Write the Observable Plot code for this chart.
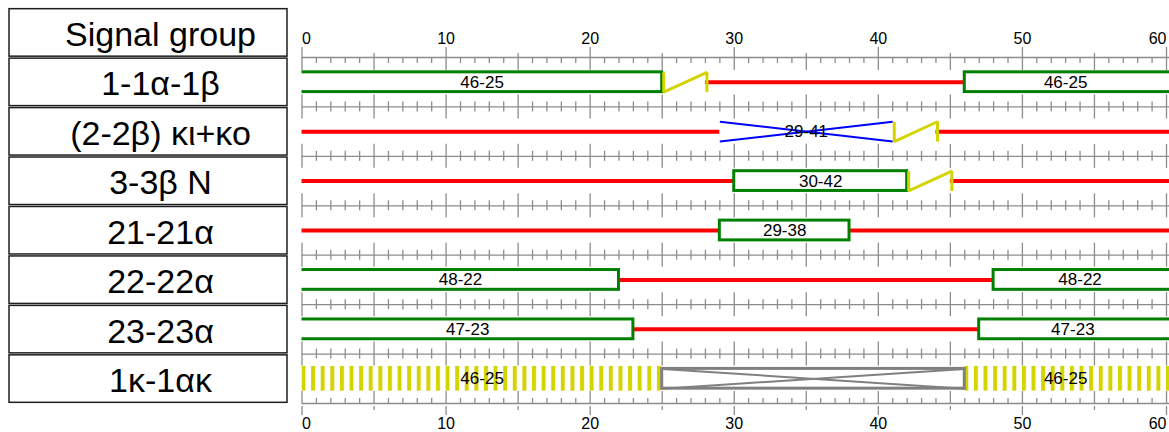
<!DOCTYPE html>
<html><head><meta charset="utf-8">
<script src="https://cdn.jsdelivr.net/npm/d3@7"></script>
<script src="https://cdn.jsdelivr.net/npm/@observablehq/plot@0.6"></script>
<style>
html,body{margin:0;padding:0;background:#fff;}
#wrap{display:flex;width:1169px;height:432px;overflow:hidden;}
#wrap svg{display:block;flex:none;max-width:none;}
</style></head><body><div id="wrap"></div>
<script>
// ---------- data ----------
const headerLabel = "Signal group";
const rows = ["1-1α-1β", "(2-2β) κι+κο", "3-3β N", "21-21α", "22-22α", "23-23α", "1κ-1ακ"];
const tickLabels = [0, 10, 20, 30, 40, 50, 60];
const greenPhases = [
  {row: "1-1α-1β", from: 46, to: 25},
  {row: "3-3β N", from: 30, to: 42},
  {row: "21-21α", from: 29, to: 38},
  {row: "22-22α", from: 48, to: 22},
  {row: "23-23α", from: 47, to: 23}
];
const redPhases = [
  {row: "1-1α-1β", from: 28, to: 46},
  {row: "(2-2β) κι+κο", from: 44, to: 29},
  {row: "3-3β N", from: 45, to: 30},
  {row: "21-21α", from: 38, to: 29},
  {row: "22-22α", from: 22, to: 48},
  {row: "23-23α", from: 23, to: 47}
];
const amberPhases = [
  {row: "1-1α-1β", from: 25, to: 28},
  {row: "(2-2β) κι+κο", from: 41, to: 44},
  {row: "3-3β N", from: 42, to: 45}
];
const blueCrossPhases = [{row: "(2-2β) κι+κο", from: 29, to: 41}];
const grayCrossPhases = [{row: "1κ-1ακ", from: 25, to: 46}];
const flashingPhases = [{row: "1κ-1ακ", from: 46, to: 25}];

// ---------- style ----------
const FONT = "'Liberation Sans', Arial, sans-serif";
const GREEN = "#008000", RED = "#ff0000", BLUE = "#0000ff", AMBER = "#d4d400", GRAY = "#808080", RULER = "#8c8c8c";
const TOP = 0.3, BOT = 0.7;          // bar extent within a row
const HTOP = 0.25, HBOT = 0.75;      // hatch extent within a row
const cycle = tickLabels[tickLabels.length - 1];

const idx = new Map(rows.map((r, i) => [r, i]));
function pieces(list) {
  return list.flatMap(p => {
    const i = idx.get(p.row), label = `${p.from}-${p.to}`;
    return p.from < p.to
      ? [{i, x1: p.from, x2: p.to, label}]
      : [{i, x1: p.from, x2: p.to + cycle, label},
         {i, x1: p.from - cycle, x2: p.to, label}];
  });
}
const greens = pieces(greenPhases);
const reds = pieces(redPhases);
const blues = pieces(blueCrossPhases);
const grays = pieces(grayCrossPhases);
const hatches = pieces(flashingPhases);
const zigzag = amberPhases.flatMap((p, k) => {
  const i = idx.get(p.row);
  return [{k, x: p.from, y: i + TOP}, {k, x: p.from, y: i + BOT}, {k, x: p.to, y: i + TOP}, {k, x: p.to, y: i + BOT}];
});
const crossLinks = list => list.flatMap(p => [
  {x1: p.x1, y1: p.i + TOP, x2: p.x2, y2: p.i + BOT},
  {x1: p.x1, y1: p.i + BOT, x2: p.x2, y2: p.i + TOP}
]);

// ticks of the ruler
const minorTicks = d3.range(0, cycle + 1).filter(v => v % 5 !== 0);
const midTicks = d3.range(5, cycle, 10);
const majorTicks = tickLabels;
const boundaries = d3.range(rows.length + 1);
const inner = boundaries.slice(1, -1);
const topB = [boundaries[0]], botB = [boundaries[boundaries.length - 1]];
const tickRule = (xs, bs, up, down) => Plot.ruleX(d3.cross(xs, bs), {
  x: d => d[0], y1: d => d[1], y2: d => d[1], insetTop: -up, insetBottom: -down,
  stroke: RULER, strokeWidth: 1.3
});

// ---------- table of signal groups ----------
const tableRows = [headerLabel, ...rows];
const table = Plot.plot({
  width: 295, height: 432, marginLeft: 9, marginRight: 8, marginTop: 0, marginBottom: 0,
  style: {fontFamily: FONT, background: "white"},
  y: {type: "band", domain: tableRows, range: [7.7, 403.3], paddingInner: 0.04, paddingOuter: 0.02, round: false, axis: null},
  marks: [
    Plot.cell(tableRows, {y: d => d, inset: 0, fill: "white", stroke: "#1e1e1e", strokeWidth: 1.5}),
    Plot.text(tableRows, {y: d => d, text: d => d, dx: 12, dy: 2, fontSize: 34, fill: "black"})
  ]
});

// ---------- timing chart ----------
const axisText = (frameAnchor, dy) => [
  Plot.text(tickLabels.slice(0, 1), {x: d => d, text: d => String(d), frameAnchor, lineAnchor: "bottom", dy, textAnchor: "start", fontSize: 16}),
  Plot.text(tickLabels.slice(1, -1), {x: d => d, text: d => String(d), frameAnchor, lineAnchor: "bottom", dy, textAnchor: "middle", fontSize: 16}),
  Plot.text(tickLabels.slice(-1), {x: d => d, text: d => String(d), frameAnchor, lineAnchor: "bottom", dy, textAnchor: "end", fontSize: 16})
];

const chart = Plot.plot({
  width: 874, height: 432, marginLeft: 6.5, marginRight: 0, marginTop: 57, marginBottom: 29,
  style: {fontFamily: FONT, background: "white"},
  x: {domain: [0, cycle], range: [6.5, 871], axis: null},
  y: {domain: [0, rows.length], reverse: true, axis: null},
  marks: [
    // ruler
    Plot.ruleY(boundaries, {stroke: RULER, strokeWidth: 1.3}),
    tickRule(minorTicks, topB, 0, 6),
    tickRule(midTicks, topB, 4, 13),
    tickRule(majorTicks, topB, 10, 13),
    tickRule(minorTicks, inner, 5, 5),
    tickRule(midTicks, inner, 12, 12),
    tickRule(majorTicks, inner, 12, 12),
    tickRule(minorTicks, botB, 5, 0),
    tickRule(midTicks, botB, 12, 0),
    tickRule(majorTicks, botB, 12, 0),
    tickRule(midTicks, botB, -3, 7),
    tickRule(majorTicks, botB, -3, 12),
    ...axisText("top", -13.5),
    ...axisText("bottom", 25),
    // red
    Plot.ruleY(reds, {y: d => d.i + 0.5, x1: "x1", x2: "x2", stroke: RED, strokeWidth: 4, clip: true}),
    // green
    Plot.rect(greens, {x1: "x1", x2: "x2", y1: d => d.i + TOP, y2: d => d.i + BOT, fill: "white", stroke: GREEN, strokeWidth: 3, clip: true}),
    // flashing (hatched)
    ...hatches.map((p, k) => Plot.rect([p], {x1: "x1", x2: "x2", y1: d => d.i + HTOP, y2: d => d.i + HBOT, fill: `url(#hatch${k})`, clip: true})),
    // gray crossed box
    Plot.rect(grays, {x1: "x1", x2: "x2", y1: d => d.i + TOP, y2: d => d.i + BOT, fill: "white", stroke: GRAY, strokeWidth: 3}),
    Plot.link(crossLinks(grays), {x1: "x1", y1: "y1", x2: "x2", y2: "y2", stroke: GRAY, strokeWidth: 2}),
    // blue cross
    Plot.link(crossLinks(blues), {x1: "x1", y1: "y1", x2: "x2", y2: "y2", stroke: BLUE, strokeWidth: 2}),
    // amber zigzag
    Plot.line(zigzag, {x: "x", y: "y", z: "k", stroke: AMBER, strokeWidth: 3, dx: 1.5, strokeLinejoin: "miter", strokeLinecap: "butt"}),
    // labels, centred in the visible part of each phase
    Plot.text([...greens, ...blues, ...hatches], {x: d => Math.max(d.x1, 0) / 2 + Math.min(d.x2, cycle) / 2, y: d => d.i + 0.5, text: "label", fontSize: 17, fill: "black", ariaLabel: "phase-labels"})
  ]
});
const lbl = chart.querySelector('g[aria-label="phase-labels"]');
if (lbl) lbl.setAttribute("letter-spacing", "1.6");

// hatch patterns, phased at each flashing piece's visible start
const xs = chart.scale("x");
const period = xs.apply(2 / 3) - xs.apply(0);
const NS = "http://www.w3.org/2000/svg";
const defs = document.createElementNS(NS, "defs");
hatches.forEach((p, k) => {
  const pat = document.createElementNS(NS, "pattern");
  pat.setAttribute("id", `hatch${k}`);
  pat.setAttribute("patternUnits", "userSpaceOnUse");
  pat.setAttribute("x", xs.apply(Math.max(p.x1, 0)));
  pat.setAttribute("y", 0);
  pat.setAttribute("width", period);
  pat.setAttribute("height", 432);
  const r = document.createElementNS(NS, "rect");
  r.setAttribute("x", 0); r.setAttribute("y", 0);
  r.setAttribute("width", 4); r.setAttribute("height", 432);
  r.setAttribute("fill", AMBER);
  pat.appendChild(r);
  defs.appendChild(pat);
});
chart.insertBefore(defs, chart.firstChild);

const wrap = document.getElementById("wrap");
wrap.appendChild(table);
wrap.appendChild(chart);
</script></body></html>
